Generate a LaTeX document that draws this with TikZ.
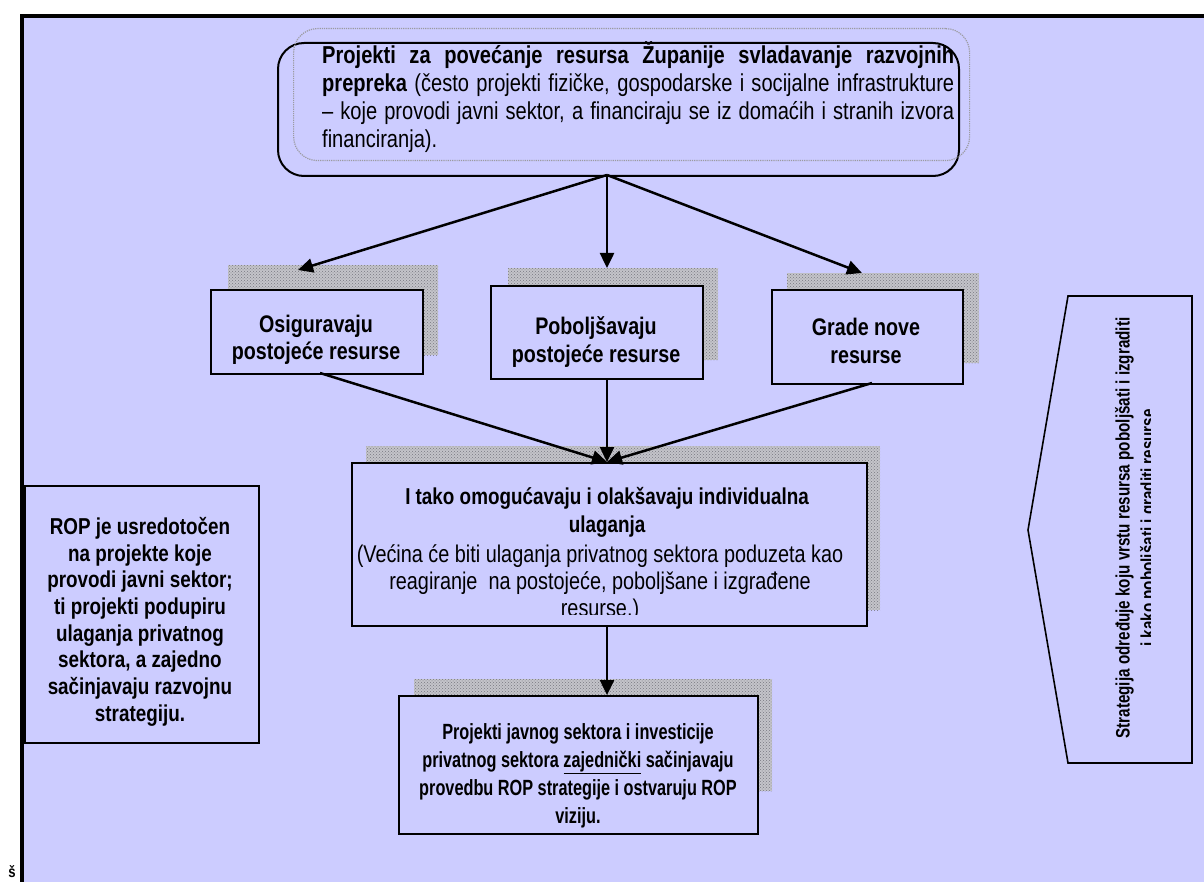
\documentclass[tikz,border=0pt]{standalone}
\usepackage{fontspec}
\setmainfont[FakeStretch=0.82]{Liberation Sans}
\usetikzlibrary{arrows.meta,shapes.geometric,patterns}
\definecolor{lav}{RGB}{204,204,255}
\definecolor{shd}{RGB}{196,196,202}
\definecolor{shdot}{RGB}{120,120,128}
\definecolor{dotg}{RGB}{155,155,160}
\tikzset{
  boxst/.style={draw=black, line width=2pt, fill=lav, inner sep=0pt, anchor=north west},
  shadowst/.style={fill=shd, draw=none, inner sep=0pt, anchor=north west,
     postaction={pattern=crosshatch dots, pattern color=shdot}},
  arr/.style={line width=2.5pt, -{Triangle[length=15pt,width=14pt]}},
  txt/.style={font=\fontsize{23}{27}\selectfont\bfseries, align=center, inner sep=0pt, anchor=north},
}
\begin{document}
\begin{tikzpicture}[x=1pt,y=-1pt]
\useasboundingbox (0,0) rectangle (1204,882);
% background frame
\fill[lav] (24,18) rectangle (1204,882);
\draw[line width=4pt] (22,882) -- (22,16) -- (1204,16);
\node[font=\fontsize{16}{16}\selectfont\bfseries, inner sep=0pt] (sfrag) at (12,872) {š};

% top box
\node[draw=black, line width=2pt, rounded corners=26pt, minimum width=681pt, minimum height=133pt, inner sep=0pt, anchor=north west] (topbox) at (277,42) {};
\node[draw=dotg, densely dotted, line width=1.2pt, rounded corners=24pt, minimum width=676pt, minimum height=132pt, inner sep=0pt, anchor=north west] (topshadow) at (293,28) {};
\node[anchor=north west, inner sep=0pt, text width=632pt, align=justify, font=\fontsize{24.5}{28}\selectfont] (toptext) at (322,41)
{\textbf{Projekti za povećanje resursa Županije svladavanje razvojnih}\linebreak
\textbf{prepreka} (često projekti fizičke, gospodarske i socijalne infrastrukture\linebreak
– koje provodi javni sektor, a financiraju se iz domaćih i stranih izvora\linebreak
financiranja).};

% three shadows and boxes
\node[shadowst, minimum width=210pt, minimum height=90pt] (osh) at (228,265) {};
\node[shadowst, minimum width=210pt, minimum height=92pt] (psh) at (508,268) {};
\node[shadowst, minimum width=192pt, minimum height=90pt] (gsh) at (787,273) {};
\node[boxst, minimum width=212pt, minimum height=84pt] (osig) at (210,289) {};
\node[boxst, minimum width=212pt, minimum height=93pt] (pob) at (490,285) {};
\node[boxst, minimum width=191pt, minimum height=94pt] (grade) at (771,289) {};
\node[txt, font=\fontsize{24}{27}\selectfont\bfseries] (osigt) at (316,315) {Osiguravaju\\postojeće resurse};
\node[txt, font=\fontsize{24}{28}\selectfont\bfseries] (pobt) at (596,316) {Poboljšavaju\\postojeće resurse};
\node[txt, font=\fontsize{24}{28}\selectfont\bfseries] (gradet) at (866,318) {Grade nove\\resurse};

% middle box
\node[shadowst, minimum width=514pt, minimum height=164pt] (msh) at (366,446) {};
\node[boxst, minimum width=515pt, minimum height=163pt] (mid) at (351,462) {};
\node[txt, font=\fontsize{23}{28}\selectfont\bfseries] (midt) at (607,487)
{I tako omogućavaju i olakšavaju individualna\\ulaganja};
\begin{scope}
\clip (352,463) rectangle (864,614);
\node[txt, font=\fontsize{24.2}{27}\selectfont\mdseries] (midn) at (600,544)
{(Većina će biti ulaganja privatnog sektora poduzeta kao\\
reagiranje\ \ na postojeće, poboljšane i izgrađene\\
resurse.)};
\end{scope}

% bottom box
\node[shadowst, minimum width=358pt, minimum height=112pt] (bsh) at (414,679) {};
\node[boxst, minimum width=359pt, minimum height=138pt] (bot) at (398,695) {};
\node[txt, font={\addfontfeature{FakeStretch=0.74}\fontsize{22}{28}\selectfont\bfseries}] (bott) at (578,723)
{Projekti javnog sektora i investicije\\privatnog sektora \underline{zajednički} sačinjavaju\\provedbu ROP strategije i ostvaruju ROP\\viziju.};

% left box
\node[boxst, line width=1.6pt, minimum width=234pt, minimum height=257pt] (rop) at (24,485) {};
\node[txt, font=\fontsize{23}{26.7}\selectfont\bfseries] (ropt) at (140,517)
{ROP je usredotočen\\na projekte koje\\provodi javni sektor;\\ti projekti podupiru\\ulaganja privatnog\\sektora, a zajedno\\sačinjavaju razvojnu\\strategiju.};

% right pentagon
\coordinate (p1) at (1068,296);
\coordinate (p2) at (1192,296);
\coordinate (p3) at (1192,763);
\coordinate (p4) at (1068,763);
\coordinate (p5) at (1028,530);
\draw[line width=1.6pt] (p1) -- (p2) -- (p3) -- (p4) -- (p5) -- cycle;
\begin{scope}
\clip (1030,290) rectangle (1150,770);
\node[rotate=90, inner sep=0pt, align=center, font={\addfontfeature{FakeStretch=0.78}\fontsize{19.5}{25}\selectfont\bfseries}] (strat) at (1137,528)
{Strategija određuje koju vrstu resursa poboljšati i izgraditi\\i kako poboljšati i graditi resurse};
\end{scope}

% connectors
\coordinate (topout) at (607,175);
\coordinate (aL) at (298,270);
\coordinate (aM) at (607,268);
\coordinate (aR) at (862,273);
\draw[arr] (topout) -- (aL);
\draw[arr] (topout) -- (aM);
\draw[arr] (topout) -- (aR);
\coordinate (oL) at (320,373);
\coordinate (oM) at (607,378);
\coordinate (oR) at (872,383);
\coordinate (mIn) at (607,462);
\draw[arr] (oL) -- (mIn);
\draw[arr] (oM) -- (mIn);
\draw[arr] (oR) -- (mIn);
\coordinate (mOut) at (607,625);
\coordinate (bIn) at (607,695);
\draw[arr] (mOut) -- (bIn);
\end{tikzpicture}
\end{document}
